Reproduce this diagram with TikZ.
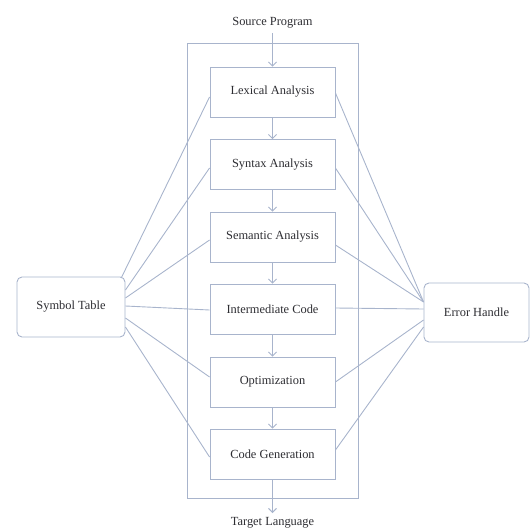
\documentclass[tikz,border=0pt]{standalone}
\usepackage{fontspec}
\setmainfont{Liberation Serif}
\usetikzlibrary{arrows.meta}
\definecolor{linec}{RGB}{168,180,204}
\definecolor{textc}{RGB}{45,45,50}
\tikzset{
  phase/.style={draw=linec, line width=0.9pt, minimum width=125pt, minimum height=50pt,
    inner sep=0pt, text=textc, font=\fontsize{12.4}{14}\selectfont},
  sidebox/.style={draw=linec, line width=0.9pt, rounded corners=5pt, inner sep=0pt,
    text=textc, font=\fontsize{12.4}{14}\selectfont},
  label/.style={text=textc, inner sep=1pt, font=\fontsize{12.4}{14}\selectfont},
  link/.style={draw=linec, line width=0.9pt},
  flow/.style={draw=linec, line width=0.9pt, -{Straight Barb[length=4pt,width=8pt]}}
}
\begin{document}
\begin{tikzpicture}[x=1pt, y=-1pt]
  \useasboundingbox (0,0) rectangle (530,532);

  % enclosing frame of the compiler
  \node[draw=linec, line width=0.9pt, minimum width=171pt, minimum height=455pt, inner sep=0pt]
    (frame) at (272.5,270.5) {};

  % compiler phases
  \node[phase] (lex) at (272.5,92)  {Lexical Analysis};
  \node[phase] (syn) at (272.5,164.5) {Syntax Analysis};
  \node[phase] (sem) at (272.5,237) {Semantic Analysis};
  \node[phase] (int) at (272.5,309) {Intermediate Code};
  \node[phase] (opt) at (272.5,382) {Optimization};
  \node[phase] (cg)  at (272.5,454) {Code Generation};

  % side modules
  \node[sidebox, minimum width=108pt, minimum height=60pt] (sym) at (71,307) {Symbol Table};
  \node[sidebox, minimum width=105pt, minimum height=59pt] (err) at (476.5,312.5) {Error Handle};

  % input and output
  \node[label] (src) at (272.5,23) {Source Program};
  \node[label] (tgt) at (272.5,523) {Target Language};
  \coordinate (srcend) at (272.5,33);
  \coordinate (tgtend) at (272.5,513);

  % main flow
  \draw[flow] (srcend) -- (lex.north);
  \draw[flow] (lex) -- (syn);
  \draw[flow] (syn) -- (sem);
  \draw[flow] (sem) -- (int);
  \draw[flow] (int) -- (opt);
  \draw[flow] (opt) -- (cg);
  \draw[flow] (cg.south) -- (tgtend);

  % symbol table links
  \draw[link] ([xshift=-4pt,yshift=-1pt]sym.north east) -- ([yshift=-5pt]lex.west);
  \draw[link] ([yshift=17pt]sym.east) -- ([yshift=-3.5pt]syn.west);
  \draw[link] ([yshift=9pt]sym.east) -- ([yshift=-3pt]sem.west);
  \draw[link] ([yshift=1pt]sym.east) -- ([yshift=-1pt]int.west);
  \draw[link] ([yshift=-11pt]sym.east) -- ([yshift=5pt]opt.west);
  \draw[link] ([yshift=-20pt]sym.east) -- ([yshift=-3pt]cg.west);

  % error handler links
  \draw[link] ([yshift=-1pt]lex.east) -- ([yshift=10.5pt]err.west);
  \draw[link] ([yshift=-3.5pt]syn.east) -- ([yshift=10.5pt]err.west);
  \draw[link] ([yshift=-8pt]sem.east) -- ([yshift=10.5pt]err.west);
  \draw[link] ([yshift=1pt]int.east) -- ([yshift=3.5pt]err.west);
  \draw[link] (opt.east) -- ([yshift=-7.5pt]err.west);
  \draw[link] ([yshift=4pt]cg.east) -- ([yshift=-14.5pt]err.west);
\end{tikzpicture}
\end{document}
